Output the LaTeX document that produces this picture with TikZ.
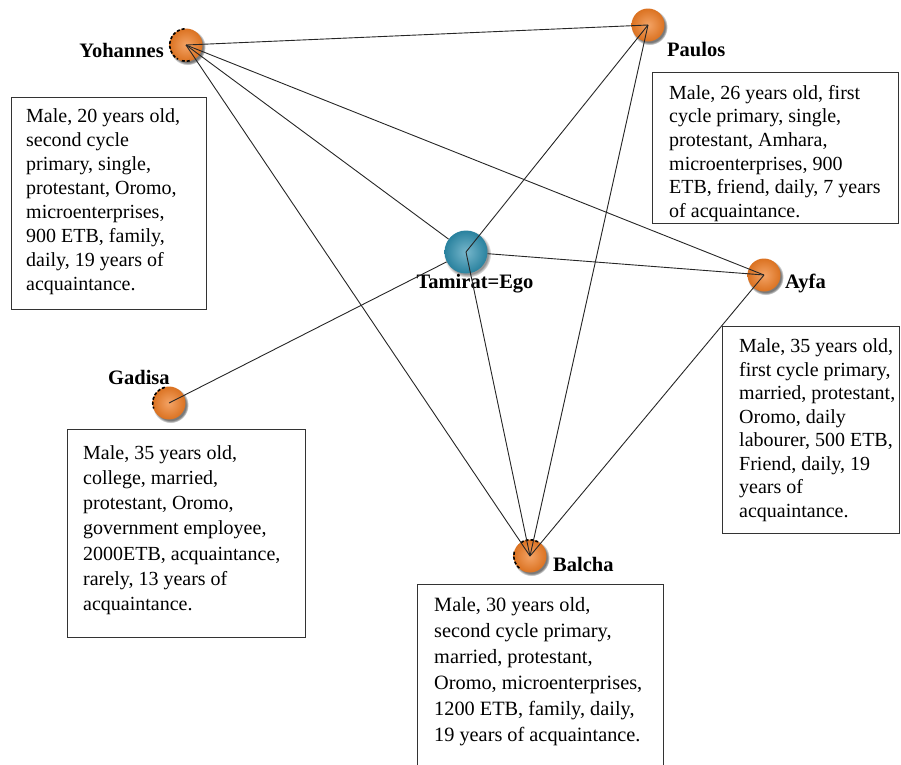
\documentclass[tikz,border=0pt]{standalone}
\usepackage{fontspec}
\setmainfont{Liberation Serif}
\usetikzlibrary{shadows}
\definecolor{nodeorange}{RGB}{238,124,36}
\definecolor{egoteal}{RGB}{46,144,176}
\begin{document}
\begin{tikzpicture}[x=1pt,y=-1pt,
  person/.style={circle, minimum size=33pt, inner sep=0pt,
    shading=radial, inner color=nodeorange!70!white, outer color=nodeorange!92!black,
    circular drop shadow={shadow xshift=1.4pt, shadow yshift=-1.8pt, opacity=0.8, fill=black!65}},
  egoball/.style={circle, minimum size=43pt, inner sep=0pt,
    shading=radial, inner color=egoteal!65!white, outer color=egoteal!90!black,
    circular drop shadow={shadow xshift=1.4pt, shadow yshift=-1.8pt, opacity=0.7, fill=black!60}},
  rim/.style={draw=black, line width=1.6pt, dash pattern=on 3pt off 2pt},
  actorname/.style={font=\bfseries\fontsize{20.5}{23}\selectfont, inner sep=0pt},
  infobox/.style={draw=black!80, line width=1pt, fill=white, anchor=north west, inner sep=0pt},
  info/.style={anchor=north west, inner sep=0pt, align=left, font=\fontsize{20}{24}\selectfont},
  tie/.style={draw=black!85, line width=0.9pt}]
\useasboundingbox (0,0) rectangle (901,764);
\clip (0,0) rectangle (901,764);

% description boxes
\node[infobox, minimum width=195pt, minimum height=212pt] (byoh) at (11,97) {};
\node[info] (tyoh) at (26,108.5) {Male, 20 years old,\\second cycle\\primary, single,\\protestant, Oromo,\\microenterprises,\\900 ETB, family,\\daily, 19 years of\\acquaintance.};

\node[infobox, minimum width=246pt, minimum height=151pt] (bpau) at (652,72) {};
\node[info, font=\fontsize{20}{23.6}\selectfont] (tpau) at (669,85) {Male, 26 years old, first\\cycle primary, single,\\protestant, Amhara,\\microenterprises, 900\\ETB, friend, daily, 7 years\\of acquaintance.};

\node[infobox, minimum width=177pt, minimum height=207pt] (bayf) at (722,326) {};
\node[info, font=\fontsize{20}{23.5}\selectfont] (tayf) at (739,338.5) {Male, 35 years old,\\first cycle primary,\\married, protestant,\\Oromo, daily\\labourer, 500 ETB,\\Friend, daily, 19\\years of\\acquaintance.};

\node[infobox, minimum width=238pt, minimum height=208pt] (bgad) at (67,429) {};
\node[info, font=\fontsize{20}{25.3}\selectfont] (tgad) at (83,445) {Male, 35 years old,\\college, married,\\protestant, Oromo,\\government employee,\\2000ETB, acquaintance,\\rarely, 13 years of\\acquaintance.};

\node[infobox, minimum width=246pt, minimum height=200pt] (bbal) at (417,584) {};
\node[info, font=\fontsize{20.3}{26}\selectfont] (tbal) at (434,597) {Male, 30 years old,\\second cycle primary,\\married, protestant,\\Oromo, microenterprises,\\1200 ETB, family, daily,\\19 years of acquaintance.};

% actors
\node[person] (yoh) at (186,45) {};
\node[person] (pau) at (648,25) {};
\node[egoball] (tam) at (466,252) {};
\node[person] (ayf) at (764,275) {};
\node[person] (gad) at (169,403) {};
\node[person] (bal) at (530,556) {};

% dashed rims on the left of some balls
\begin{scope}[shift={(yoh.center)}, yscale=-1]
  \draw[rim] (95:16.3) arc[start angle=95, end angle=240, radius=16.3];
  \draw[rim] (255:16.3) arc[start angle=255, end angle=290, radius=16.3];
\end{scope}
\begin{scope}[shift={(gad.center)}, yscale=-1]
  \draw[rim] (105:16.3) arc[start angle=105, end angle=200, radius=16.3];
\end{scope}
\begin{scope}[shift={(bal.center)}, yscale=-1]
  \draw[rim] (60:16.3) arc[start angle=60, end angle=130, radius=16.3];
  \draw[rim] (165:16.3) arc[start angle=165, end angle=235, radius=16.3];
\end{scope}

% names
\node[actorname, anchor=east] (lyoh) at (164,50) {Yohannes};
\node[actorname, anchor=west] (lpau) at (667,50) {Paulos};
\node[actorname] (ltam) at (475,284) {Tamirat=Ego};
\node[actorname, anchor=west] (layf) at (785,283) {Ayfa};
\node[actorname, anchor=west] (lgad) at (108,377) {Gadisa};
\node[actorname, anchor=west] (lbal) at (553,564) {Balcha};

% ties
\draw[tie] (yoh.center) -- (pau.center);
\draw[tie] (yoh.center) -- (tam);
\draw[tie] (yoh.center) -- (ayf.center);
\draw[tie] (yoh.center) -- (bal.center);
\draw[tie] (pau.center) -- (tam.center);
\draw[tie] (pau.center) -- (bal.center);
\draw[tie] (tam) -- (ayf.center);
\draw[tie] (tam.center) -- (bal.center);
\draw[tie] (gad.center) -- (tam);
\draw[tie] (ayf.center) -- (bal.center);
\end{tikzpicture}
\end{document}
